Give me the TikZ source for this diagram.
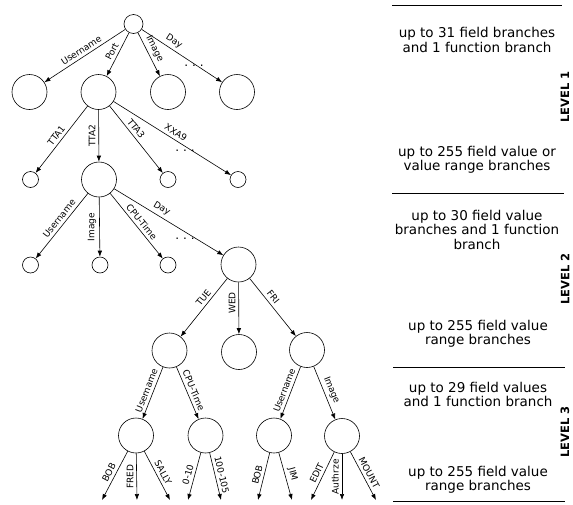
\documentclass[tikz,border=0pt]{standalone}
\usepackage{fontspec}
\setmainfont{DejaVu Sans}
\usetikzlibrary{arrows.meta}
\begin{document}
\begin{tikzpicture}[x=1pt,y=-1pt,
  every node/.style={text=black},
  big/.style={circle,draw,minimum size=35pt,inner sep=0pt,line width=0.6pt},
  small/.style={circle,draw,minimum size=16pt,inner sep=0pt,line width=0.6pt},
  rootc/.style={circle,draw,minimum size=19pt,inner sep=0pt,line width=0.6pt},
  br/.style={-{Latex[length=6pt,width=4.5pt]},line width=0.6pt},
  lab/.style={font=\fontsize{9}{10}\selectfont,sloped,above,inner sep=3pt,midway},
  vlab/.style={font=\fontsize{9}{10}\selectfont,rotate=90,anchor=south,inner sep=3pt,midway},
  desc/.style={align=center,font=\fontsize{13.5}{14.5}\selectfont,inner sep=0pt},
  lvl/.style={rotate=90,font=\fontsize{11.5}{12}\selectfont\bfseries,inner sep=0pt},
  dots/.style={font=\fontsize{12}{12}\selectfont,inner sep=0pt},
  sep/.style={line width=0.8pt}
]
\useasboundingbox (0,0) rectangle (573,504);

% nodes
\node[rootc] (r) at (133.5,24) {};
\node[big] (a1) at (29.5,92) {};
\node[big] (a2) at (98.5,92) {};
\node[big] (a3) at (168,92) {};
\node[big] (a4) at (237,92) {};

\node[small] (b1) at (30.5,179.5) {};
\node[big] (b2) at (99,179.5) {};
\node[small] (b3) at (168,179.5) {};
\node[small] (b4) at (238,179.5) {};

\node[small] (c1) at (30.5,265) {};
\node[small] (c2) at (100,265) {};
\node[small] (c3) at (168,265) {};
\node[big] (c4) at (238.5,264.5) {};

\node[big] (d1) at (169.5,350.5) {};
\node[big] (d2) at (239,352) {};
\node[big] (d3) at (307,350) {};

\node[big] (e1) at (136,435.5) {};
\node[big] (e2) at (205.5,435.5) {};
\node[big] (e3) at (274,435.5) {};
\node[big] (e4) at (342,436) {};

\coordinate (f1) at (102,500);
\coordinate (f2) at (137,500);
\coordinate (f3) at (170,500);
\coordinate (f4) at (188,500);
\coordinate (f5) at (221,500);
\coordinate (f6) at (258,500);
\coordinate (f7) at (292,500);
\coordinate (f8) at (311,500);
\coordinate (f9) at (342,500);
\coordinate (f10) at (376,500);

\node[dots] (g1) at (194,66) {.\,\,.\,\,.};
\node[dots] (g2) at (185,151) {.\,\,.\,\,.};
\node[dots] (g3) at (185,239) {.\,\,.\,\,.};

% edges level 1
\draw[br] (r) -- (a1) node[lab] {Username};
\draw[br] (r) -- (a2) node[lab] {Port};
\draw[br] (r) -- (a3) node[lab,pos=0.45] {Image};
\draw[br] (r) -- (a4) node[lab,pos=0.35] {Day};

% level 2
\draw[br] (a2) -- (b1) node[lab] {TTA1};
\draw[br] (a2) -- (b2) node[vlab] {TTA2};
\draw[br] (a2) -- (b3) node[lab,pos=0.4] {TTA3};
\draw[br] (a2) -- (b4) node[lab] {XXA9};

% level 3
\draw[br] (b2) -- (c1) node[lab,pos=0.45] {Username};
\draw[br] (b2) -- (c2) node[vlab] {Image};
\draw[br] (b2) -- (c3) node[lab] {CPU-Time};
\draw[br] (b2) -- (c4) node[lab,pos=0.4] {Day};

% level 4
\draw[br] (c4) -- (d1) node[lab,pos=0.4] {TUE};
\draw[br] (c4) -- (d2) node[vlab,pos=0.4] {WED};
\draw[br] (c4) -- (d3) node[lab,pos=0.4] {FRI};

% level 5
\draw[br] (d1) -- (e1) node[lab] {Username};
\draw[br] (d1) -- (e2) node[lab] {CPU-Time};
\draw[br] (d3) -- (e3) node[lab] {Username};
\draw[br] (d3) -- (e4) node[lab] {Image};

% leaves
\draw[br] (e1) -- (f1) node[lab] {BOB};
\draw[br] (e1) -- (f2) node[vlab] {FRED};
\draw[br] (e1) -- (f3) node[lab] {SALLY};
\draw[br] (e2) -- (f4) node[lab] {0-10};
\draw[br] (e2) -- (f5) node[lab] {100-105};
\draw[br] (e3) -- (f6) node[lab] {BOB};
\draw[br] (e3) -- (f7) node[lab] {JIM};
\draw[br] (e4) -- (f8) node[lab] {EDIT};
\draw[br] (e4) -- (f9) node[vlab] {Authrze};
\draw[br] (e4) -- (f10) node[lab] {MOUNT};

% right side
\draw[sep] (392,5) -- (562,5);
\draw[sep] (392,193) -- (564,193);
\draw[sep] (393,367) -- (565,367);
\draw[sep] (393,501) -- (565,501);

\node[desc] (t1) at (477,40) {up to 31 field branches\\and 1 function branch};
\node[desc] (t2) at (477,160) {up to 255 field value or\\value range branches};
\node[desc] (t3) at (477,229.5) {up to 30 field value\\branches and 1 function\\branch};
\node[desc] (t4) at (478,334) {up to 255 field value\\range branches};
\node[desc] (t5) at (478,394.5) {up to 29 field values\\and 1 function branch};
\node[desc] (t6) at (478,480) {up to 255 field value\\range branches};

\node[lvl] (L1) at (565,97) {LEVEL 1};
\node[lvl] (L2) at (565,279) {LEVEL 2};
\node[lvl] (L3) at (565,432) {LEVEL 3};
\end{tikzpicture}
\end{document}
